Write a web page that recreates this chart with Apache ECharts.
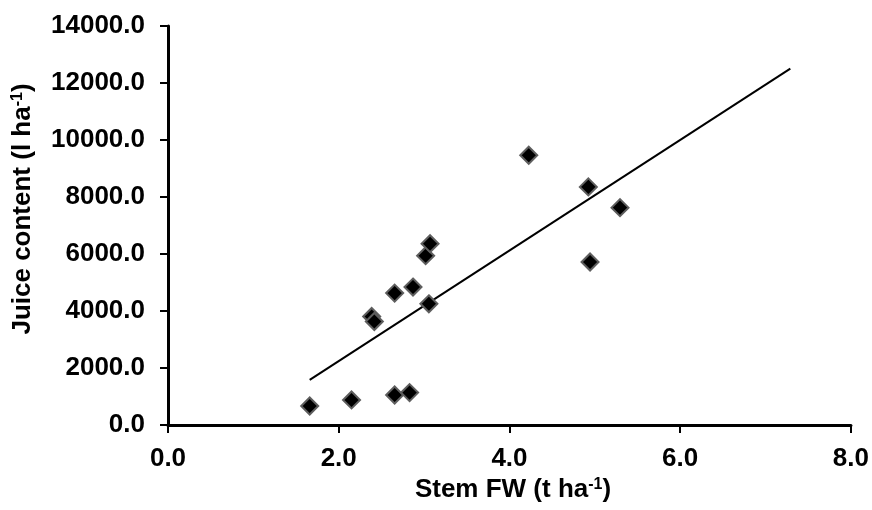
<!DOCTYPE html>
<html>
<head>
<meta charset="utf-8">
<script src="https://cdn.jsdelivr.net/npm/echarts@6/dist/echarts.min.js"></script>
<style>html,body{margin:0;padding:0;background:#fff}#c{width:872px;height:510px}</style>
</head>
<body>
<div id="c"></div>
<script>
var stemFW = [1.66, 2.15, 2.655, 2.83, 2.386, 2.417, 2.655, 2.87, 3.056, 3.018, 3.07, 4.226, 4.924, 4.944, 5.295];
var juice  = [668, 879, 1054, 1136, 3807, 3631, 4628, 4840, 4253, 5940, 6362, 9466, 8355, 5719, 7627];
var trendX = [1.66, 7.29];
var trendY = [1582, 12503];
var xTicks = [0, 2, 4, 6, 8];
var yTicks = [0, 2000, 4000, 6000, 8000, 10000, 12000, 14000];

var font = '"Liberation Sans", Arial, sans-serif';
var pts = stemFW.map(function (x, i) { return [x, juice[i]]; });
var trend = trendX.map(function (x, i) { return [x, trendY[i]]; });

var chart = echarts.init(document.getElementById('c'), null, {renderer: 'canvas'});
chart.setOption({
  animation: false,
  backgroundColor: '#fff',
  grid: {left: 168, right: 20, top: 26, bottom: 85, containLabel: false},
  xAxis: {
    type: 'value', min: xTicks[0], max: xTicks[xTicks.length - 1], interval: 2,
    splitLine: {show: false},
    axisLine: {show: true, onZero: false, lineStyle: {color: '#000', width: 3}},
    axisTick: {show: true, inside: false, length: 8, lineStyle: {color: '#000', width: 2}},
    axisLabel: {margin: 21, color: '#000', fontFamily: font, fontWeight: 'bold', fontSize: 26,
      formatter: function (v) { return v.toFixed(1); }}
  },
  yAxis: {
    type: 'value', min: yTicks[0], max: yTicks[yTicks.length - 1], interval: 2000,
    splitLine: {show: false},
    axisLine: {show: true, onZero: false, lineStyle: {color: '#000', width: 3}},
    axisTick: {show: true, inside: false, length: 8, lineStyle: {color: '#000', width: 2}},
    axisLabel: {margin: 23, color: '#000', fontFamily: font, fontWeight: 'bold', fontSize: 26,
      formatter: function (v) { return v.toFixed(1); }}
  },
  series: [
    {
      type: 'line', data: trend, symbol: 'none', silent: true,
      lineStyle: {color: '#000', width: 2}, z: 2
    },
    {
      type: 'scatter', data: pts, symbol: 'diamond', symbolSize: 17,
      itemStyle: {color: '#000', borderColor: '#5e5e5e', borderWidth: 2, opacity: 1}, z: 3
    }
  ],
  graphic: [
    {
      type: 'text', x: 513, y: 490,
      style: {
        text: '{a|Stem FW (t ha}{s|-1}{a|)}',
        align: 'center', verticalAlign: 'middle',
        rich: {
          a: {fontFamily: font, fontWeight: 'bold', fontSize: 26, fill: '#000'},
          s: {fontFamily: font, fontWeight: 'bold', fontSize: 16, fill: '#000', verticalAlign: 'top', padding: [0, 0, 10, 0]}
        }
      }
    },
    {
      type: 'text', x: 23, y: 209, rotation: Math.PI / 2,
      style: {
        text: '{a|Juice content (l ha}{s|-1}{a|)}',
        align: 'center', verticalAlign: 'middle',
        rich: {
          a: {fontFamily: font, fontWeight: 'bold', fontSize: 26, fill: '#000'},
          s: {fontFamily: font, fontWeight: 'bold', fontSize: 16, fill: '#000', verticalAlign: 'top', padding: [0, 0, 10, 0]}
        }
      }
    }
  ]
});
</script>
</body>
</html>
